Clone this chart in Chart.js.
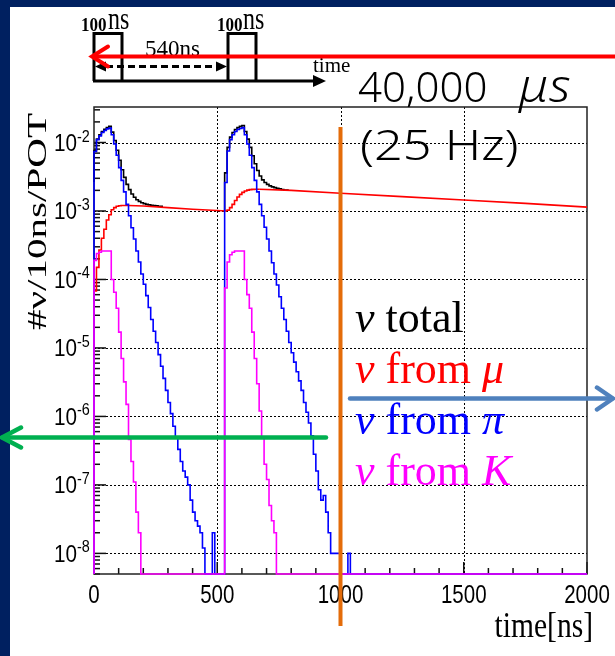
<!DOCTYPE html>
<html>
<head>
<meta charset="utf-8">
<script src="https://cdn.jsdelivr.net/npm/chart.js@4.4.1/dist/chart.umd.min.js"></script>
<style>
  html, body { margin: 0; padding: 0; background: #ffffff; }
  canvas { display: block; }
</style>
</head>
<body>
<canvas id="c" width="615" height="656"></canvas>
<script>
// Neutrino time spectrum for a double-bunch beam, 10 ns bins.
const BIN_NS = 10;

// Axis ranges and tick labels
const X_MIN = 0, X_MAX = 2000;
const Y_MIN = 5e-9, Y_MAX = 3.3e-2;
const xTickLabels = [0, 500, 1000, 1500, 2000];
const xMinorStepNs = 100;
const yDecadeExponents = [-2, -3, -4, -5, -6, -7, -8];

// ν from π : bin contents starting at 0 ns (bins 0 .. 1050 ns)
const nuFromPi = [
  2.6e-3, 7.4e-3, 1.1e-2, 1.25e-2, 1.4e-2, 1.5e-2, 1.58e-2, 1.62e-2, 1.3e-2, 9.5e-3,
  6.5e-3, 4.3e-3, 2.8e-3, 1.9e-3, 1.25e-3, 8.5e-4, 5.7e-4, 3.9e-4, 2.6e-4, 1.8e-4,
  1.2e-4, 8.5e-5, 5.8e-5, 3.9e-5, 2.6e-5, 1.75e-5, 1.2e-5, 8e-6, 5.4e-6, 3.6e-6,
  2.4e-6, 1.6e-6, 1.1e-6, 7.2e-7, 4.9e-7, 3.3e-7, 2.2e-7, 1.6e-7, 1.3e-7, 1.0e-7,
  6e-8, 4e-8, 3e-8, 2.5e-8, 2e-8, 1.2e-8, 0, 0, 0, 2e-8,
  0, 0, 0, 0, 2.6e-3, 7.5e-3, 1.1e-2, 1.3e-2, 1.45e-2, 1.55e-2,
  1.6e-2, 1.65e-2, 1.3e-2, 9.5e-3, 6.5e-3, 4.3e-3, 2.8e-3, 1.9e-3, 1.25e-3, 8.5e-4,
  5.8e-4, 3.9e-4, 2.6e-4, 1.75e-4, 1.2e-4, 8.3e-5, 5.6e-5, 3.8e-5, 2.6e-5, 1.75e-5,
  1.2e-5, 8.5e-6, 6.2e-6, 4.5e-6, 3.3e-6, 2.4e-6, 1.6e-6, 1.15e-6, 8e-7, 5.2e-7,
  2.8e-7, 1.6e-7, 8.5e-8, 6e-8, 7e-8, 4e-8, 2e-8, 1e-8, 1e-8, 1e-8,
  1e-8, 0, 0, 0, 1e-8, 0
];

// ν from K : bin contents starting at 0 ns (bins 0 .. 750 ns)
const nuFromK = [
  7e-5, 1.9e-4, 2.4e-4, 2.5e-4, 2.6e-4, 2.6e-4, 2.6e-4, 2.6e-4, 1.0e-4, 6.5e-5,
  3.8e-5, 1.7e-5, 7e-6, 3.2e-6, 1.5e-6, 4.6e-7, 2.2e-7, 1.1e-7, 4e-8, 2e-8,
  0, 0, 0, 0, 0, 0, 0, 0, 0, 0,
  0, 0, 0, 0, 0, 0, 0, 0, 0, 0,
  0, 0, 0, 0, 0, 0, 0, 0, 0, 0,
  0, 0, 0, 0, 7.5e-5, 1.8e-4, 2.3e-4, 2.5e-4, 2.6e-4, 2.6e-4,
  2.6e-4, 2.6e-4, 1.0e-4, 6e-5, 3.8e-5, 1.7e-5, 7e-6, 3e-6, 1.2e-6, 5e-7,
  2e-7, 1.2e-7, 5e-8, 3e-8, 2e-8, 0
];

// ν from μ : rising edges of each bunch (stepped bins) ...
const muRise1Start = 0;
const nuFromMuRise1 = [1.0e-5, 6.8e-5, 1.5e-4, 2.7e-4, 4.0e-4, 5.4e-4, 7.4e-4, 8.8e-4, 1.04e-3, 1.12e-3, 1.17e-3, 1.19e-3, 1.2e-3, 1.2e-3];
const muRise2Start = 540;
const nuFromMuRise2 = [1.0e-3, 1.03e-3, 1.12e-3, 1.25e-3, 1.42e-3, 1.6e-3, 1.75e-3, 1.87e-3, 1.96e-3, 2.02e-3, 2.05e-3, 2.07e-3, 2.08e-3];
// ... and the slow muon-decay plateau between/after the bunches
const muPlateauTimes = [140, 200, 300, 400, 540];
const nuFromMuPlateau = [1.2e-3, 1.18e-3, 1.12e-3, 1.06e-3, 1.0e-3];
const muTailTimes = [670, 800, 1000, 1250, 1500, 1750, 2000];
const nuFromMuTail = [2.08e-3, 2.0e-3, 1.82e-3, 1.62e-3, 1.45e-3, 1.29e-3, 1.14e-3];

// ν total around each bunch (elsewhere it coincides with ν from μ)
const totalStart1 = 0;
const nuTotal1 = [
  2.65e-3, 7.6e-3, 1.12e-2, 1.3e-2, 1.45e-2, 1.56e-2, 1.65e-2, 1.72e-2, 1.42e-2, 1.07e-2,
  7.7e-3, 5.5e-3, 4.0e-3, 3.1e-3, 2.45e-3, 2.05e-3, 1.77e-3, 1.59e-3, 1.46e-3, 1.38e-3,
  1.32e-3, 1.28e-3, 1.25e-3, 1.23e-3, 1.21e-3, 1.2e-3, 1.19e-3, 1.17e-3
];
const totalStart2 = 530;
const nuTotal2 = [
  1.0e-3, 3.6e-3, 8.5e-3, 1.2e-2, 1.4e-2, 1.55e-2, 1.65e-2, 1.72e-2, 1.77e-2, 1.45e-2,
  1.12e-2, 8.5e-3, 6.4e-3, 4.9e-3, 3.9e-3, 3.25e-3, 2.85e-3, 2.6e-3, 2.45e-3, 2.33e-3,
  2.25e-3, 2.19e-3, 2.14e-3, 2.1e-3, 2.06e-3, 2.03e-3
];

const COLORS = { total: '#000000', mu: '#ff0000', pi: '#0000ff', k: '#ff00ff' };
const legendRows = [
  { key: 'total', words: 'total', particle: '' },
  { key: 'mu', words: 'from', particle: 'μ' },
  { key: 'pi', words: 'from', particle: 'π' },
  { key: 'k', words: 'from', particle: 'K' }
];

// ---- helpers -------------------------------------------------------------
// Empty bins sit on the lower edge of the log axis, as in a ROOT histogram.
const onAxis = (v) => (v > 0 ? v : Y_MIN);
function histPoints(startNs, values) {
  const pts = values.map((v, i) => ({ x: startNs + i * BIN_NS, y: onAxis(v) }));
  pts.push({ x: startNs + values.length * BIN_NS, y: onAxis(values[values.length - 1]) });
  return pts;
}
function linePoints(times, values) {
  return times.map((t, i) => ({ x: t, y: values[i] }));
}
const GAP = (x) => ({ x, y: null });

const piData = [{ x: 0, y: Y_MIN }].concat(histPoints(0, nuFromPi), [{ x: X_MAX, y: Y_MIN }]);
const kData = [{ x: 0, y: Y_MIN }].concat(histPoints(0, nuFromK), [{ x: X_MAX, y: Y_MIN }]);
const muStepData = histPoints(muRise1Start, nuFromMuRise1).concat([GAP(300)], histPoints(muRise2Start, nuFromMuRise2));
const muLineData = linePoints(muPlateauTimes, nuFromMuPlateau).concat([GAP(600)], linePoints(muTailTimes, nuFromMuTail));
const totalData = histPoints(totalStart1, nuTotal1).concat([GAP(400)], histPoints(totalStart2, nuTotal2));

function series(label, data, color, order, stepped) {
  return {
    label, data, order,
    borderColor: color, backgroundColor: color,
    borderWidth: 1.6, pointRadius: 0, pointHoverRadius: 0,
    fill: false, tension: 0, spanGaps: false,
    stepped: stepped ? 'after' : false,
    clip: 4
  };
}

function drawText(ctx, s, x, y, font, color, align, sx) {
  ctx.save();
  ctx.font = font;
  ctx.fillStyle = color;
  ctx.textBaseline = 'alphabetic';
  ctx.textAlign = 'left';
  const w = ctx.measureText(s).width * (sx || 1);
  const x0 = align === 'right' ? x - w : align === 'center' ? x - w / 2 : x;
  ctx.translate(x0, y);
  ctx.scale(sx || 1, 1);
  ctx.fillText(s, 0, 0);
  ctx.restore();
  return w;
}

function line(ctx, x1, y1, x2, y2) {
  ctx.beginPath(); ctx.moveTo(x1, y1); ctx.lineTo(x2, y2); ctx.stroke();
}

function chevron(ctx, tipX, tipY, dir, len, half) {
  ctx.beginPath();
  ctx.moveTo(tipX - dir * len, tipY - half);
  ctx.lineTo(tipX, tipY);
  ctx.lineTo(tipX - dir * len, tipY + half);
  ctx.stroke();
}

function filledHead(ctx, tipX, tipY, dir, len, half) {
  ctx.beginPath();
  ctx.moveTo(tipX, tipY);
  ctx.lineTo(tipX - dir * len, tipY - half);
  ctx.lineTo(tipX - dir * len, tipY + half);
  ctx.closePath();
  ctx.fill();
}

// ---- plugins -------------------------------------------------------------
const SERIF = '"Liberation Serif", "Times New Roman", serif';
const SANS = '"Liberation Sans", Arial, sans-serif';
const SLIDE = '300 42px "Noto Sans", "Open Sans", sans-serif';
const SLIDE_ITALIC = 'italic 300 46px "Noto Sans", "Open Sans", sans-serif';

const slideBackground = {
  id: 'slideBackground',
  beforeDraw(chart) {
    const { ctx, width, height } = chart;
    ctx.save();
    ctx.fillStyle = '#002060';
    ctx.fillRect(0, 0, width, height);
    ctx.fillStyle = '#ffffff';
    ctx.fillRect(10, 7, width - 10, height - 7);
    ctx.restore();
  }
};

const frameAndGrid = {
  id: 'frameAndGrid',
  beforeDatasetsDraw(chart) {
    const { ctx, chartArea: a, scales: { x, y } } = chart;
    ctx.save();
    // dotted grid at labelled ticks
    ctx.strokeStyle = '#000';
    ctx.lineWidth = 1;
    ctx.setLineDash([2, 2]);
    xTickLabels.forEach(v => {
      if (v <= X_MIN || v >= X_MAX) return;
      const px = Math.round(x.getPixelForValue(v)) + 0.5;
      line(ctx, px, a.top, px, a.bottom);
    });
    yDecadeExponents.forEach(e => {
      const py = Math.round(y.getPixelForValue(Math.pow(10, e))) + 0.5;
      line(ctx, a.left, py, a.right, py);
    });
    ctx.setLineDash([]);

    // tick marks pointing into the frame
    ctx.lineWidth = 1.5;
    ctx.strokeStyle = '#111';
    for (let e = -9; e <= -1; e++) {
      for (let m = 1; m <= 9; m++) {
        const v = m * Math.pow(10, e);
        if (v < Y_MIN || v > Y_MAX) continue;
        const py = y.getPixelForValue(v);
        line(ctx, a.left, py, a.left + (m === 1 ? 12 : 6), py);
      }
    }
    for (let t = X_MIN; t <= X_MAX; t += xMinorStepNs) {
      const px = x.getPixelForValue(t);
      const major = xTickLabels.includes(t);
      line(ctx, px, a.bottom, px, a.bottom - (major ? 12 : 6));
    }

    // frame
    ctx.strokeStyle = '#222';
    ctx.lineWidth = 1.5;
    ctx.strokeRect(a.left, a.top, a.right - a.left, a.bottom - a.top);
    ctx.restore();
  }
};

const labelsAndNotes = {
  id: 'labelsAndNotes',
  afterDatasetsDraw(chart) {
    const { ctx, chartArea: a, scales: { x, y } } = chart;
    ctx.save();

    // y tick labels 10^n
    yDecadeExponents.forEach(e => {
      const py = y.getPixelForValue(Math.pow(10, e));
      drawText(ctx, '10', 77, py + 8.5, `23px ${SANS}`, '#000', 'right', 0.9);
      drawText(ctx, String(e), 77, py - 1, `16px ${SANS}`, '#000', 'left', 0.9);
    });
    // x tick labels
    xTickLabels.forEach(v => {
      drawText(ctx, String(v), x.getPixelForValue(v), 603, `25px ${SANS}`, '#000', 'center', 0.82);
    });
    // axis titles
    drawText(ctx, 'time[ns]', a.right + 6, 637, `36px ${SERIF}`, '#000', 'right', 0.82);
    ctx.save();
    ctx.font = `38px ${SERIF}`;
    const yTitle = '#ν/10ns/POT';
    const tw = ctx.measureText(yTitle).width;
    ctx.translate(46, 330);
    ctx.rotate(-Math.PI / 2);
    ctx.scale(217 / tw, 0.72);
    ctx.fillStyle = '#000';
    ctx.textBaseline = 'alphabetic';
    ctx.fillText(yTitle, 0, 0);
    ctx.restore();

    // legend
    legendRows.forEach((row, i) => {
      const base = 332 + i * 51;
      const col = COLORS[row.key];
      let cx = 355;
      cx += drawText(ctx, 'ν', cx, base, `italic 44px ${SERIF}`, col, 'left', 1);
      cx += drawText(ctx, ' ' + row.words + ' ', cx, base, `44px ${SERIF}`, col, 'left', 1);
      if (row.particle) drawText(ctx, row.particle, cx, base, `italic 44px ${SERIF}`, col, 'left', 1);
    });

    // bunch structure sketch
    ctx.strokeStyle = '#000';
    ctx.fillStyle = '#000';
    ctx.lineWidth = 3;
    ctx.lineJoin = 'miter';
    [[94, 122], [228, 256]].forEach(([l, r]) => {
      ctx.beginPath();
      ctx.moveTo(l, 81); ctx.lineTo(l, 33.5); ctx.lineTo(r, 33.5); ctx.lineTo(r, 81);
      ctx.stroke();
    });
    line(ctx, 93, 81, 314, 81);
    filledHead(ctx, 326, 81, 1, 13, 6);
    ctx.setLineDash([7, 4]);
    line(ctx, 106, 66.5, 216, 66.5);
    ctx.setLineDash([]);
    filledHead(ctx, 95, 66.5, -1, 11, 5);
    filledHead(ctx, 227, 66.5, 1, 11, 5);
    [[81, 108], [217, 243]].forEach(([nx, sx]) => {
      drawText(ctx, '100', nx, 31, `bold 18px ${SERIF}`, '#000', 'left', 0.95);
      drawText(ctx, 'ns', sx, 28.5, `32px ${SERIF}`, '#000', 'left', 0.75);
    });
    drawText(ctx, '540ns', 145, 56, `24px ${SERIF}`, '#000', 'left', 0.96);
    drawText(ctx, 'time', 313, 72, `21px ${SERIF}`, '#000', 'left', 1.0);

    // repetition note
    drawText(ctx, '40,000', 358, 102, SLIDE, '#000', 'left', 1);
    drawText(ctx, 'μs', 519, 102, SLIDE_ITALIC, '#000', 'left', 1.1);
    drawText(ctx, '(25 Hz)', 360, 160, SLIDE, '#000', 'left', 1.2);

    // red repetition arrow
    ctx.strokeStyle = '#ff0000';
    ctx.lineWidth = 4;
    ctx.lineCap = 'round';
    line(ctx, 93, 56.5, 620, 56.5);
    chevron(ctx, 92, 56.5, -1, 16, 10);

    // orange marker at 1000 ns
    ctx.strokeStyle = '#e46c0a';
    ctx.lineCap = 'butt';
    ctx.lineWidth = 4;
    const ox = x.getPixelForValue(1000);
    line(ctx, ox, 127, ox, 626);

    // blue and green arrows
    ctx.lineCap = 'round';
    ctx.strokeStyle = '#4f81bd';
    ctx.lineWidth = 4.5;
    line(ctx, 350, 398.5, 612, 398.5);
    chevron(ctx, 613, 398.5, 1, 16, 11);
    ctx.strokeStyle = '#00b050';
    line(ctx, 3, 437.5, 326, 437.5);
    chevron(ctx, 2, 437.5, -1, 19, 10);

    ctx.restore();
  }
};

new Chart(document.getElementById('c'), {
  type: 'line',
  data: {
    datasets: [
      series('ν from K', kData, COLORS.k, 1, true),
      series('ν from π', piData, COLORS.pi, 2, true),
      series('ν from μ', muStepData, COLORS.mu, 3, true),
      series('ν from μ (decay)', muLineData, COLORS.mu, 3, false),
      series('ν total', totalData, COLORS.total, 4, true)
    ]
  },
  options: {
    responsive: false,
    animation: false,
    devicePixelRatio: 1,
    layout: { padding: { top: 107, right: 28, left: 0, bottom: 0 } },
    plugins: { legend: { display: false }, tooltip: { enabled: false } },
    events: [],
    scales: {
      x: {
        type: 'linear', min: X_MIN, max: X_MAX,
        grid: { display: false }, border: { display: false },
        ticks: { display: false },
        afterFit(s) { s.height = 82; }
      },
      y: {
        type: 'logarithmic', min: Y_MIN, max: Y_MAX,
        grid: { display: false }, border: { display: false },
        ticks: { display: false },
        afterFit(s) { s.width = 94; }
      }
    }
  },
  plugins: [slideBackground, frameAndGrid, labelsAndNotes]
});
</script>
</body>
</html>
